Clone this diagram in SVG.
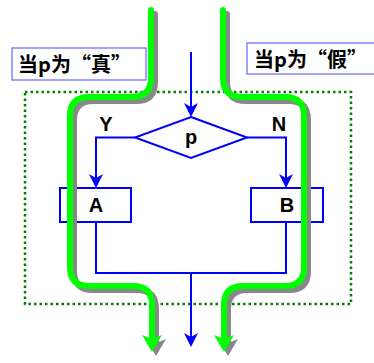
<svg xmlns="http://www.w3.org/2000/svg" width="374" height="363" viewBox="0 0 374 363">
<defs>
<style>
.flow{fill:none;stroke:#0000ff;stroke-width:2}
.box{fill:#ffffff;stroke:#0000ff;stroke-width:2}
.lbl{fill:#ffffff;stroke:#7070ff;stroke-width:1.3}
.path{fill:none;stroke-width:6;stroke-linecap:round;stroke-linejoin:round}
.g{stroke:#00ff00}
.s{stroke:#888888}
.t{font-family:"Liberation Sans","Noto Sans",sans-serif;font-weight:bold;font-size:20px;fill:#000;text-anchor:middle}
.c{font-family:"Noto Sans CJK SC","Noto Sans",sans-serif;font-weight:bold;font-size:20px;fill:#000}
</style>
<path id="bh" d="M0,0 L-7,-14 L0,-10 L7,-14 Z" fill="#0000ff"/>
<path id="gh" d="M0,0 L-10,-17 L0,-13 L10,-17 Z"/>
</defs>
<rect x="25" y="92" width="326" height="212" fill="none" stroke="#008000" stroke-width="2.5" stroke-dasharray="2.5 3"/>
<g id="connectors">
<line class="flow" x1="191" y1="52" x2="191" y2="110"/>
<use href="#bh" x="191" y="117"/>
<polyline class="flow" points="135,137.5 96,137.5 96,180"/>
<use href="#bh" x="96" y="188"/>
<polyline class="flow" points="247,137.5 286,137.5 286,180"/>
<use href="#bh" x="286" y="188"/>
<polyline class="flow" points="96,222 96,273 286,273 286,222"/>
<line class="flow" x1="191" y1="273" x2="191" y2="340"/>
<use href="#bh" x="191" y="347"/>
</g>
<g id="decision">
<polygon class="box" points="191,117 247,137.5 191,158 135,137.5"/>
<text class="t" x="191" y="144">p</text>
</g>
<g id="boxA">
<rect class="box" x="60" y="188" width="71" height="34"/>
<text class="t" x="96" y="212">A</text>
</g>
<g id="boxB">
<rect class="box" x="251" y="188" width="72" height="34"/>
<text class="t" x="287" y="212">B</text>
</g>
<text class="t" x="106" y="131">Y</text>
<text class="t" x="279" y="131">N</text>
<g id="trueFlow">
<g transform="translate(4,4)">
<path class="path s" d="M151,10 V78 Q151,97 132,97 H89 Q70,97 70,116 V267 Q70,286 89,286 H133 Q152,286 152,305 V340"/>
<use href="#gh" x="152" y="352" fill="#888888"/>
</g>
<path class="path g" d="M151,10 V78 Q151,97 132,97 H89 Q70,97 70,116 V267 Q70,286 89,286 H133 Q152,286 152,305 V340"/>
<use href="#gh" x="152" y="352" fill="#00ff00"/>
</g>
<g id="falseFlow">
<g transform="translate(4,4)">
<path class="path s" d="M223,10 V78 Q223,97 242,97 H285 Q304,97 304,116 V267 Q304,286 285,286 H243 Q224,286 224,305 V340"/>
<use href="#gh" x="224" y="352" fill="#888888"/>
</g>
<path class="path g" d="M223,10 V78 Q223,97 242,97 H285 Q304,97 304,116 V267 Q304,286 285,286 H243 Q224,286 224,305 V340"/>
<use href="#gh" x="224" y="352" fill="#00ff00"/>
</g>
<g id="labelTrue">
<rect class="lbl" x="12" y="48" width="134" height="32"/>
<text class="c" x="18" y="71.5">当p为“真”</text>
</g>
<g id="labelFalse">
<rect class="lbl" x="247" y="43" width="130" height="31"/>
<text class="c" x="254" y="66.5">当p为“假”</text>
</g>
</svg>
